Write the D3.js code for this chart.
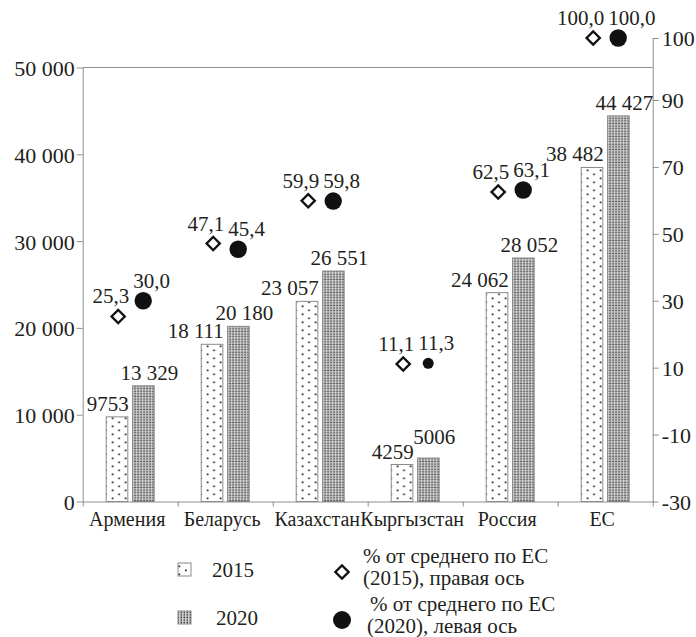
<!DOCTYPE html>
<html>
<head>
<meta charset="utf-8">
<script src="https://cdn.jsdelivr.net/npm/d3@7/dist/d3.min.js"></script>
<style>
  body { margin: 0; background: #fff; }
  svg text { font-family: "Liberation Serif", "DejaVu Serif", serif; font-size: 21px; fill: #231f20; }
</style>
</head>
<body>
<div id="chart"></div>
<script>
// data
var countries = ["Армения", "Беларусь", "Казахстан", "Кыргызстан", "Россия", "ЕС"];
var gdp2015 = [9753, 18111, 23057, 4259, 24062, 38482];
var gdp2020 = [13329, 20180, 26551, 5006, 28052, 44427];
var pct2015 = [25.3, 47.1, 59.9, 11.1, 62.5, 100.0];
var pct2020 = [30.0, 45.4, 59.8, 11.3, 63.1, 100.0];
var leftTicks = [0, 10000, 20000, 30000, 40000, 50000];
var rightTicks = [-30, -10, 10, 30, 50, 70, 90, 100];

var W = 696, H = 637;
var axisColor = "#8f8f8f";
var serif = "Liberation Serif, DejaVu Serif, serif";

var svg = d3.select("#chart").append("svg")
	.attr("width", W)
	.attr("height", H);

// fill patterns for the bars
var defs = svg.append("defs");
var p15 = defs.append("pattern")
	.attr("id", "dots15")
	.attr("patternUnits", "userSpaceOnUse")
	.attr("width", 13).attr("height", 8);
p15.append("rect").attr("width", 13).attr("height", 8).attr("fill", "#fff");
p15.append("rect").attr("x", 3).attr("y", 1.5).attr("width", 1.7).attr("height", 1.7).attr("fill", "#222");
p15.append("rect").attr("x", 9.5).attr("y", 5.5).attr("width", 1.7).attr("height", 1.7).attr("fill", "#222");

var p20 = defs.append("pattern")
	.attr("id", "dots20")
	.attr("patternUnits", "userSpaceOnUse")
	.attr("width", 3).attr("height", 2.6);
p20.append("rect").attr("width", 3).attr("height", 2.6).attr("fill", "#dcdcdc");
p20.append("rect").attr("x", 0.5).attr("y", 0.5).attr("width", 1.6).attr("height", 1.5).attr("fill", "#2a2a2a");

// scales
var x = d3.scaleBand().domain(countries).range([82.7, 652.7]).padding(0);
var xIdx = d3.scaleLinear().domain([0, countries.length]).range([82.7, 652.7]);
var xYear = d3.scaleBand().domain(["2015", "2020"]).range([23.5, 71.5]).paddingInner(0.18);
var yLeft = d3.scaleLinear().domain([0, 50000]).range([501.5, 67.5]);
// right axis has a break just below its top value
var yRight = d3.scaleLinear().domain([-30, 90, 100]).range([501.5, 100, 38]);

var fmt = function(v) { return d3.format(",")(v).replace(/,/g, " "); };
var fmtPct = function(v) { return d3.format(".1f")(v).replace(".", ","); };

// top border of the plot area
svg.append("line")
	.attr("x1", x.range()[0]).attr("x2", x.range()[1])
	.attr("y1", yLeft(50000)).attr("y2", yLeft(50000))
	.attr("stroke", axisColor);

// left axis
var gl = svg.append("g")
	.attr("transform", "translate(" + x.range()[0] + ",0)")
	.call(d3.axisLeft(yLeft).tickValues(leftTicks).tickFormat(fmt).tickSize(6).tickSizeOuter(0));

// right axis
var gr = svg.append("g")
	.attr("transform", "translate(" + x.range()[1] + ",0)")
	.call(d3.axisRight(yRight).tickValues(rightTicks).tickFormat(function(d) { return String(d); })
		.tickSize(6).tickSizeOuter(0));

// bottom axis: ticks on category boundaries
var gb = svg.append("g")
	.attr("transform", "translate(0," + yLeft(0) + ")")
	.call(d3.axisBottom(xIdx).tickValues(d3.range(countries.length + 1)).tickFormat("").tickSize(5).tickSizeOuter(0));

[gl, gr, gb].forEach(function(g) {
	g.attr("font-family", serif).attr("font-size", 22);
	g.select(".domain").attr("stroke", axisColor);
	g.selectAll(".tick line").attr("stroke", axisColor);
	g.selectAll(".tick text").attr("fill", "#231f20").style("font-size", "22px");
});
gl.selectAll(".tick text").attr("x", -8).attr("dy", "0.36em");
gr.selectAll(".tick text").attr("x", 9).attr("dy", "0.36em");

// category labels
svg.selectAll(".cat")
	.data(countries)
	.enter().append("text")
	.attr("class", "cat")
	.attr("x", function(d) { return x(d) + x.bandwidth() / 2 - 3; })
	.attr("y", 526)
	.attr("text-anchor", "middle")
	.style("font-size", "20px")
	.text(function(d) { return d; });

// bars
var rows = countries.map(function(c, i) {
	return { country: c, v2015: gdp2015[i], v2020: gdp2020[i], p2015: pct2015[i], p2020: pct2020[i] };
});

var groups = svg.selectAll(".grp")
	.data(rows)
	.enter().append("g")
	.attr("class", "grp")
	.attr("transform", function(d) { return "translate(" + x(d.country) + ",0)"; });

groups.append("rect")
	.attr("x", xYear("2015"))
	.attr("y", function(d) { return yLeft(d.v2015); })
	.attr("width", xYear.bandwidth())
	.attr("height", function(d) { return yLeft(0) - yLeft(d.v2015); })
	.attr("fill", "url(#dots15)")
	.attr("stroke", "#8a8a8a");

groups.append("rect")
	.attr("x", xYear("2020"))
	.attr("y", function(d) { return yLeft(d.v2020); })
	.attr("width", xYear.bandwidth())
	.attr("height", function(d) { return yLeft(0) - yLeft(d.v2020); })
	.attr("fill", "url(#dots20)")
	.attr("stroke", "#8a8a8a");

// value labels over the bars
groups.append("text")
	.attr("x", xYear("2015") + xYear.bandwidth() + 1)
	.attr("y", function(d) { return yLeft(d.v2015) - 6; })
	.attr("text-anchor", "end")
	.text(function(d) { return d.v2015 < 10000 ? d.v2015 : fmt(d.v2015); });

groups.append("text")
	.attr("x", xYear("2020") + xYear.bandwidth() / 2 + 6)
	.attr("y", function(d) { return yLeft(d.v2020) - (d.v2020 < 10000 ? 14 : 6); })
	.attr("text-anchor", "middle")
	.text(function(d) { return d.v2020 < 10000 ? d.v2020 : fmt(d.v2020); });

// markers: both plotted against the right-hand scale
var cx = x.bandwidth() / 2;

groups.append("path")
	.attr("d", d3.symbol().type(d3.symbolSquare).size(88))
	.attr("transform", function(d) { return "translate(" + (cx - 12) + "," + yRight(d.p2015) + ") rotate(45)"; })
	.attr("fill", "#fff")
	.attr("stroke", "#111")
	.attr("stroke-width", 2.3);

groups.append("circle")
	.attr("cx", cx + 13)
	.attr("cy", function(d) { return yRight(d.p2020); })
	.attr("r", function(d) { return d.country == "Кыргызстан" ? 5.5 : 8.7; })
	.attr("fill", "#111");

groups.append("text")
	.attr("x", cx - 1)
	.attr("y", function(d) { return yRight(d.p2015) - 13; })
	.attr("text-anchor", "end")
	.text(function(d) { return fmtPct(d.p2015); });

groups.append("text")
	.attr("x", cx + 3)
	.attr("y", function(d) { return yRight(d.p2020) - 13; })
	.attr("text-anchor", "start")
	.text(function(d) { return fmtPct(d.p2020); });

// legend
var lg = svg.append("g");
lg.append("rect").attr("x", 178).attr("y", 563).attr("width", 13).attr("height", 13)
	.attr("fill", "url(#dots15)").attr("stroke", "#8a8a8a");
lg.append("text").attr("x", 212).attr("y", 577).text("2015");
lg.append("rect").attr("x", 178).attr("y", 611).attr("width", 13).attr("height", 13)
	.attr("fill", "url(#dots20)").attr("stroke", "#8a8a8a");
lg.append("text").attr("x", 216).attr("y", 625).text("2020");

lg.append("path")
	.attr("d", d3.symbol().type(d3.symbolSquare).size(88))
	.attr("transform", "translate(342,572) rotate(45)")
	.attr("fill", "#fff").attr("stroke", "#111").attr("stroke-width", 2.3);
var t1 = lg.append("text");
t1.append("tspan").attr("x", 363).attr("y", 563).text("% от среднего по ЕС");
t1.append("tspan").attr("x", 363).attr("y", 585).text("(2015), правая ось");

lg.append("circle").attr("cx", 342).attr("cy", 620).attr("r", 9).attr("fill", "#111");
var t2 = lg.append("text");
t2.append("tspan").attr("x", 370).attr("y", 611).text("% от среднего по ЕС");
t2.append("tspan").attr("x", 367).attr("y", 633).text("(2020), левая ось");
</script>
</body>
</html>
